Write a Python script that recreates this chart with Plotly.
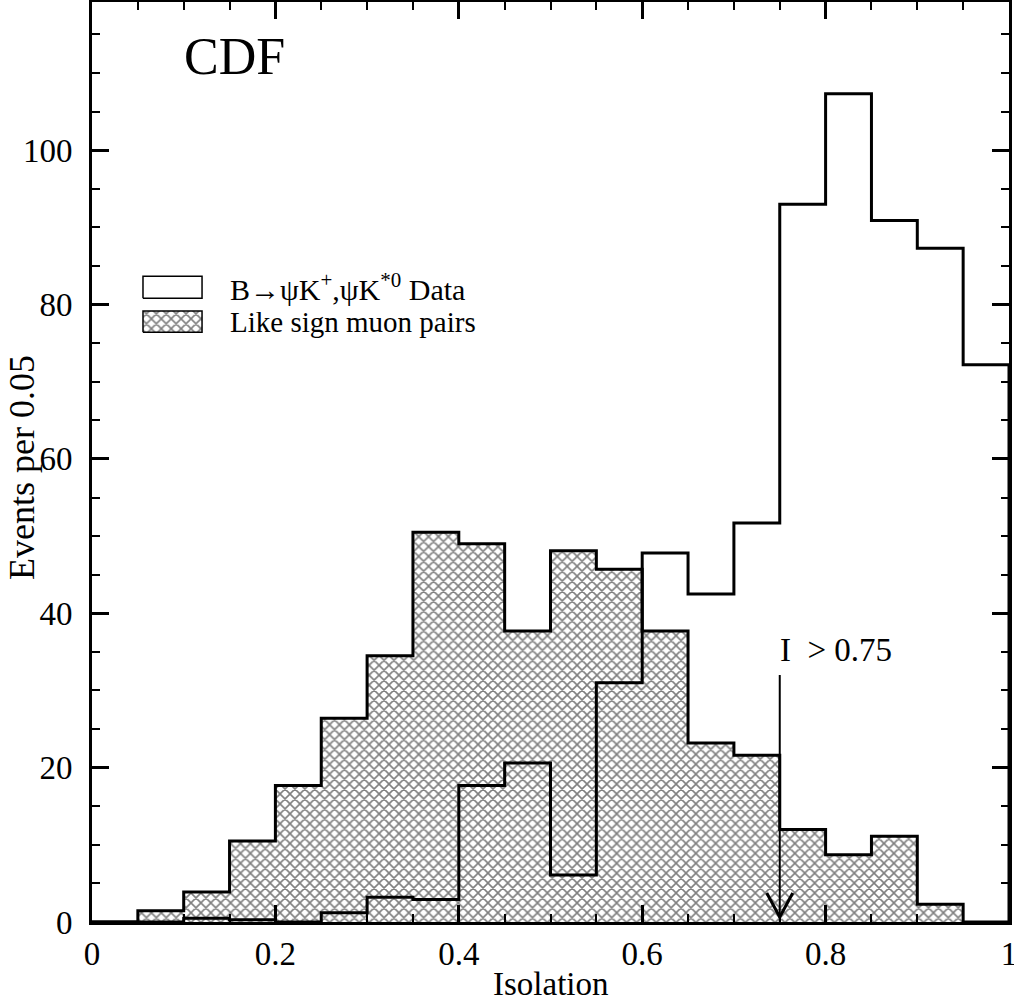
import plotly.graph_objects as go

# ---- data (bin width 0.05, bins from 0.00 to 1.00) ----
bin_edges = [round(i * 0.05, 2) for i in range(21)]
data_counts = [0, 0, 0.5, 0.3, 0, 1.2, 3.2, 2.9, 17.7, 20.6,
               6.1, 31.0, 47.8, 42.5, 51.7, 93.0, 107.3, 90.9, 87.3, 72.2]
likesign_counts = [0, 1.47, 3.9, 10.5, 17.7, 26.4, 34.5, 50.5, 49.0, 37.7,
                   48.1, 45.7, 37.7, 23.2, 21.6, 12.0, 8.7, 11.1, 2.3, 0]
cut_value = 0.75
cut_arrow_top = 32
cut_label = "I\u00a0\u00a0>\u00a00.75"
x_ticks = [0, 0.2, 0.4, 0.6, 0.8, 1.0]
x_ticktext = ["0", "0.2", "0.4", "0.6", "0.8", "1"]
y_ticks = [0, 20, 40, 60, 80, 100]
label_data = "B\u2192\u03c8K<sup>+</sup>,\u03c8K<sup>*0</sup> Data"
label_likesign = "Like sign muon pairs"

FONT = "Liberation Serif, Times New Roman, serif"


def step_xy(edges, vals):
    xs = [edges[0]] + edges[:-1] + [edges[-1]]
    ys = [0] + list(vals) + [0]
    return xs, ys


hatch = dict(shape="x", fgcolor="black", bgcolor="white", size=7, solidity=0.4)

fig = go.Figure()

lx, ly = step_xy(bin_edges, likesign_counts)
fig.add_trace(go.Scatter(
    x=lx, y=ly, mode="lines", line=dict(color="black", width=3, shape="hv"),
    fill="tozeroy", fillcolor="white", fillpattern=hatch,
    showlegend=False, hoverinfo="skip"))

dx, dy = step_xy(bin_edges, data_counts)
fig.add_trace(go.Scatter(
    x=dx, y=dy, mode="lines", line=dict(color="black", width=3, shape="hv"),
    showlegend=False, hoverinfo="skip"))

# ---- legend swatches on an overlay axis (0..1 of plot area) ----
sw_x0, sw_x1 = 0.0556, 0.12
sw1_y0, sw1_y1 = 0.678, 0.702
sw2_y0, sw2_y1 = 0.641, 0.664
fig.add_trace(go.Scatter(
    x=[sw_x0, sw_x1, sw_x1, sw_x0, sw_x0], y=[sw1_y0, sw1_y0, sw1_y1, sw1_y1, sw1_y0],
    mode="lines", line=dict(color="black", width=1.5), fill="toself", fillcolor="white",
    xaxis="x2", yaxis="y2", showlegend=False, hoverinfo="skip"))
fig.add_trace(go.Scatter(
    x=[sw_x0, sw_x1, sw_x1, sw_x0, sw_x0], y=[sw2_y0, sw2_y0, sw2_y1, sw2_y1, sw2_y0],
    mode="lines", line=dict(color="black", width=1.5), fill="toself", fillcolor="white",
    fillpattern=hatch, xaxis="x2", yaxis="y2", showlegend=False, hoverinfo="skip"))

axis_common = dict(
    showline=True, linewidth=3, linecolor="black", mirror="allticks",
    ticks="inside", tickwidth=2.5, tickcolor="black", ticklen=17,
    showgrid=False, zeroline=False, automargin=False,
    tickfont=dict(family=FONT, size=33, color="black"),
)

fig.update_layout(
    width=1014, height=1006,
    margin=dict(l=92, r=5, t=2, b=84),
    paper_bgcolor="white", plot_bgcolor="white",
    font=dict(family=FONT, size=32, color="black"),
    xaxis=dict(range=[0, 1], tickvals=x_ticks, ticktext=x_ticktext, ticklabeloverflow="allow",
               minor=dict(dtick=0.05, ticklen=8, tickwidth=2, ticks="inside", tickcolor="black"),
               **axis_common),
    yaxis=dict(range=[0, 119.2], tickvals=y_ticks, ticklabeloverflow="allow",
               ticklabelstandoff=10,
               minor=dict(dtick=5, ticklen=8, tickwidth=2, ticks="inside", tickcolor="black"),
               **axis_common),
    xaxis2=dict(overlaying="x", range=[0, 1], visible=False, fixedrange=True),
    yaxis2=dict(overlaying="y", range=[0, 1], visible=False, fixedrange=True),
)

# axis titles
fig.add_annotation(x=0.5, y=-0.0674, xref="paper", yref="paper", text="Isolation",
                   showarrow=False, xanchor="center", yanchor="middle",
                   font=dict(family=FONT, size=33))
fig.add_annotation(x=-0.0763, y=0.4935, xref="paper", yref="paper", text="Events per 0.05",
                   showarrow=False, xanchor="center", yanchor="middle", textangle=-90,
                   font=dict(family=FONT, size=36))

# arrow at the cut
fig.add_shape(type="line", x0=cut_value, x1=cut_value, y0=0, y1=cut_arrow_top,
              xref="x", yref="y", line=dict(color="black", width=2))
fig.add_shape(type="path", xref="x", yref="y", xsizemode="pixel", ysizemode="pixel",
              xanchor=cut_value, yanchor=0, path="M-13,29 L0,5 L13,29",
              line=dict(color="black", width=3))

fig.add_annotation(x=cut_value, y=cut_arrow_top + 3.3, xref="x", yref="y", text=cut_label,
                   showarrow=False, xanchor="left", yanchor="middle", xshift=-2,
                   font=dict(family=FONT, size=33))

fig.add_annotation(x=0.1549, y=0.9413, xref="paper", yref="paper", text="CDF",
                   showarrow=False, xanchor="center", yanchor="middle",
                   font=dict(family=FONT, size=52))

fig.add_annotation(x=0.1483, y=0.690, xref="paper", yref="paper", text=label_data,
                   showarrow=False, xanchor="left", yanchor="middle",
                   font=dict(family=FONT, size=30))
fig.add_annotation(x=0.1483, y=0.6527, xref="paper", yref="paper", text=label_likesign,
                   showarrow=False, xanchor="left", yanchor="middle",
                   font=dict(family=FONT, size=29))

fig.write_html("out.html", config={"displayModeBar": False},
               post_script="document.body.style.margin='0px';")
